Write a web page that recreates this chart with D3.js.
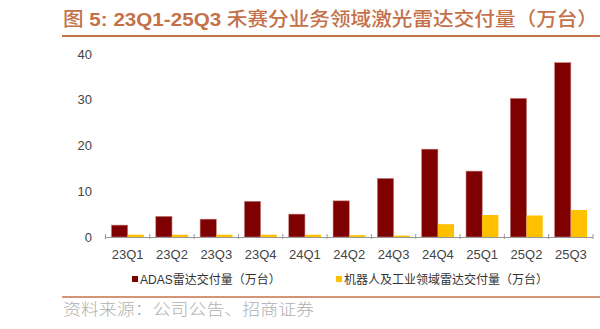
<!DOCTYPE html>
<html><head><meta charset="utf-8">
<script src="https://cdn.jsdelivr.net/npm/d3@7"></script>
<style>html,body{margin:0;padding:0;background:#fff;}svg{display:block;}</style>
</head><body>
<svg id="c" width="600" height="329"></svg>
<script>
const categories = ["23Q1","23Q2","23Q3","23Q4","24Q1","24Q2","24Q3","24Q4","25Q1","25Q2","25Q3"];
const adas = [2.6, 4.5, 3.9, 7.8, 5.0, 7.9, 12.8, 19.2, 14.4, 30.3, 38.1];
const robot = [0.5, 0.5, 0.5, 0.5, 0.5, 0.4, 0.3, 2.8, 4.8, 4.7, 5.9];
const seriesNames = ["ADAS雷达交付量（万台）", "机器人及工业领域雷达交付量（万台）"];
const colors = ["#7f0000", "#ffc000"];
const yTicks = [0, 10, 20, 30, 40];
const titleParts = [["图 ", false], ["5:  23Q1-25Q3 ", true], ["禾赛分业务领域激光雷达交付量（万台）", false]];
const source = "资料来源：公司公告、招商证券";

const svg = d3.select("#c");
const font = "'Liberation Sans', Arial, 'Noto Sans CJK SC', sans-serif";
const accent = "#c4714a";

const t = svg.append("text").attr("x", 63).attr("y", 26).attr("fill", accent)
  .attr("font-family", "'Liberation Sans', Arial, 'Noto Sans CJK SC', sans-serif")
  .attr("font-size", 19)
  .attr("textLength", 535).attr("lengthAdjust", "spacingAndGlyphs");
titleParts.forEach(([s, b]) => t.append("tspan").attr("font-weight", b ? "bold" : 500).text(s));
svg.append("line").attr("x1", 62).attr("x2", 600).attr("y1", 36).attr("y2", 36)
  .attr("stroke", accent).attr("stroke-width", 2);

const x = d3.scaleBand().domain(categories).range([105.5, 593]).paddingInner(0).paddingOuter(0);
const y = d3.scaleLinear().domain([0, 40]).range([237, 54]);
const inner = d3.scaleBand().domain([0, 1]).range([0, x.bandwidth()]).paddingOuter(0.37).paddingInner(0);

svg.append("g").selectAll("text").data(yTicks).join("text")
  .attr("x", 92).attr("y", d => y(d)).attr("dy", "0.35em").attr("text-anchor", "end")
  .attr("font-family", font).attr("font-size", 13).attr("fill", "#444").text(d => d);

const series = [adas, robot];
series.forEach((vals, si) => {
  svg.append("g").selectAll("rect").data(vals).join("rect")
    .attr("x", (d, i) => x(categories[i]) + inner(si))
    .attr("y", d => y(d))
    .attr("width", inner.bandwidth())
    .attr("height", d => y(0) - y(d))
    .attr("fill", colors[si])
    .attr("stroke", si === 0 ? "#c07a7a" : "none")
    .attr("stroke-width", si === 0 ? 0.6 : 0);
});

const xa = svg.append("g");
xa.append("line").attr("x1", x.range()[0]).attr("x2", x.range()[1]).attr("y1", y(0) + 0.5).attr("y2", y(0) + 0.5)
  .attr("stroke", "#999").attr("stroke-width", 1.2);
const bounds = categories.map(c => x(c)).concat([x.range()[1]]);
xa.selectAll("line.t").data(bounds).join("line").attr("class", "t")
  .attr("x1", d => d).attr("x2", d => d).attr("y1", y(0) - 3).attr("y2", y(0) + 2)
  .attr("stroke", "#999").attr("stroke-width", 1);
xa.selectAll("text").data(categories).join("text")
  .attr("x", d => x(d) + x.bandwidth() / 2).attr("y", 254).attr("dy", "0.35em")
  .attr("text-anchor", "middle").attr("font-family", font).attr("font-size", 13).attr("fill", "#444")
  .text(d => d);

const legX = [132, 336];
seriesNames.forEach((n, i) => {
  svg.append("rect").attr("x", legX[i]).attr("y", 276).attr("width", 6).attr("height", 6).attr("fill", colors[i]);
  svg.append("text").attr("x", legX[i] + 8).attr("y", 280).attr("dy", "0.35em")
    .attr("font-family", font).attr("font-size", 12).attr("fill", "#333").text(n);
});

svg.append("line").attr("x1", 62).attr("x2", 600).attr("y1", 297).attr("y2", 297)
  .attr("stroke", accent).attr("stroke-width", 1.5);
svg.append("text").attr("x", 63).attr("y", 309).attr("dy", "0.35em")
  .attr("font-family", "'Noto Sans CJK SC', sans-serif").attr("font-weight", 300).attr("font-size", 16).attr("fill", "#b0b0b0")
  .attr("textLength", 251).attr("lengthAdjust", "spacingAndGlyphs")
  .text(source);
</script>
</body></html>
